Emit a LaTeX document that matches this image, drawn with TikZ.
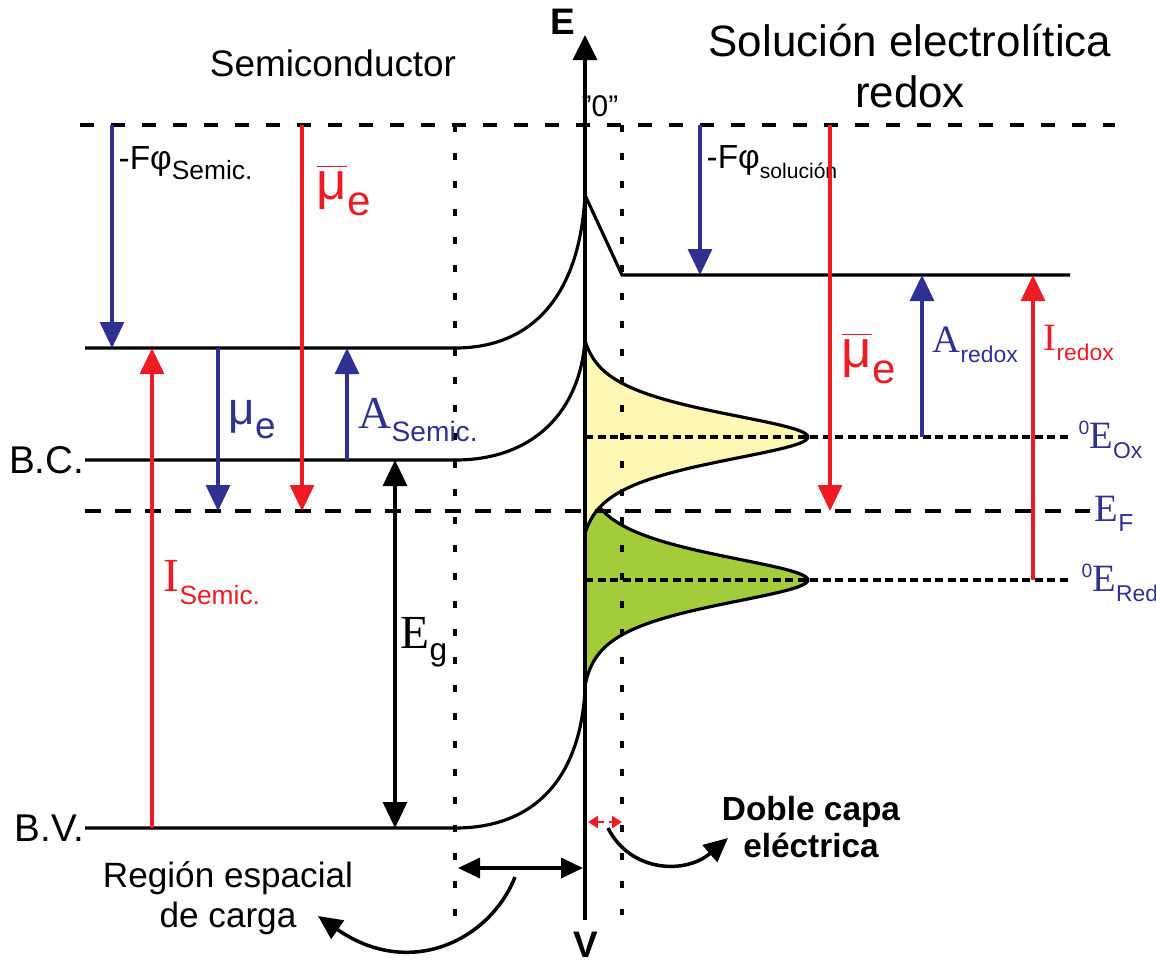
\documentclass[tikz,border=0pt]{standalone}
\usepackage{fontspec}
\setmainfont{Liberation Sans}
\newfontfamily\tmsfont{Liberation Serif}
\usetikzlibrary{arrows.meta}
\definecolor{bandblue}{HTML}{2E3192}
\definecolor{bandred}{HTML}{ED1C24}
\definecolor{oxfill}{HTML}{FFF8B5}
\definecolor{redfill}{HTML}{A3CC3A}
\newcommand{\fsz}[1]{\fontsize{#1}{#1}\selectfont}
\newcommand{\lsub}[3][-1mm]{\raisebox{#1}{\fsz{#2}#3}}
\newcommand{\mubar}{$\overline{\mbox{μ}}$}
\tikzset{
  lvl/.style={line width=0.9pt},
  vacline/.style={line width=0.9pt, dash pattern=on 1.4mm off 1.7mm},
  fermi/.style={line width=0.9pt, dash pattern=on 1.6mm off 1.4mm},
  redoxline/.style={line width=1pt, dash pattern=on 0.8mm off 0.45mm},
  sclimit/.style={line width=0.9pt, dash pattern=on 0.7mm off 2.1mm},
  bluearr/.style={bandblue, line width=0.9pt, -{Triangle[length=2.6mm,width=2.4mm]}},
  redarr/.style={bandred, line width=0.9pt, -{Triangle[length=2.6mm,width=2.4mm]}},
  gaparr/.style={line width=0.9pt, {Triangle[length=2.6mm,width=2.4mm]}-{Triangle[length=2.6mm,width=2.4mm]}},
  bentarr/.style={line width=1pt, -{Triangle[length=2.4mm,width=2.2mm]}},
  txt/.style={inner sep=0pt},
  bluetxt/.style={inner sep=0pt, text=bandblue},
  redtxt/.style={inner sep=0pt, text=bandred}
}

\begin{document}
\begin{tikzpicture}[x=0.1mm, y=-0.1mm]
  \useasboundingbox (0,0) rectangle (1156,965);

  % levels
  \coordinate (vacL) at (80,125);   \coordinate (vacR) at (1115,125);
  \coordinate (efL) at (85,511);    \coordinate (efR) at (1090,511);
  \coordinate (clL) at (85,348);    \coordinate (clR) at (455,348);
  \coordinate (bcL) at (85,460);    \coordinate (bcR) at (455,460);
  \coordinate (bvL) at (85,828);    \coordinate (bvR) at (455,828);
  \coordinate (pkVac) at (585,195);
  \coordinate (pkBC) at (585,340);
  \coordinate (pkBV) at (585,690);
  \coordinate (solL) at (622,275);  \coordinate (solR) at (1070,275);
  \coordinate (oxL) at (585,437);   \coordinate (oxR) at (1070,437);
  \coordinate (rdL) at (585,580);   \coordinate (rdR) at (1070,580);

  % distributions
  \fill[redfill] plot[domain=-4.6:4.6, samples=100] ({585+223*(1/cosh(\x)-0.0201)/0.9799},{580+23*\x}) -- cycle;
  \draw[lvl] plot[domain=-4.6:4.6, samples=100] ({585+223*(1/cosh(\x)-0.0201)/0.9799},{580+23*\x});
  \fill[oxfill] plot[domain=-4.2:4.2, samples=100] ({585+223*(1/cosh(\x)-0.0299)/0.9701},{437+23*\x}) -- cycle;
  \draw[lvl] plot[domain=-4.2:4.2, samples=100] ({585+223*(1/cosh(\x)-0.0299)/0.9701},{437+23*\x});

  % dashed / dotted lines
  \draw[vacline] (vacL) -- (vacR);
  \draw[fermi] (efL) -- (efR);
  \draw[redoxline] (oxL) -- (oxR);
  \draw[redoxline] (rdL) -- (rdR);
  \draw[sclimit] (455,125) -- (455,935);
  \draw[sclimit] (622,125) -- (622,915);

  % bands
  \draw[lvl] (clL) -- (clR) .. controls (535,348) and (580,292) .. (pkVac) -- (solL) -- (solR);
  \draw[lvl] (bcL) -- (bcR) .. controls (535,460) and (580,410) .. (pkBC);
  \draw[lvl] (bvL) -- (bvR) .. controls (535,828) and (580,778) .. (pkBV);

  % axis
  \draw[line width=1pt, -{Triangle[length=2.5mm,width=2.4mm]}] (585,920) -- (585,35);
  \node[txt, font=\fsz{10.5}\bfseries] (eaxis) at (563,22) {E};
  \node[txt, font=\fsz{10.5}\bfseries] (vaxis) at (586,945) {V};
  \node[txt, font=\fsz{8.5}] (zero) at (600,106) {\symbol{34}0\symbol{34}};

  % titles
  \node[txt, font=\fsz{10.5}] (semi) at (333,63) {Semiconductor};
  \node[txt, font=\fsz{12.5}, align=center] (sol) at (910,66) {Solución electrolítica\\[0.8mm]redox};
  \node[txt, anchor=east, font=\fsz{11}] (bc) at (bcL) {B.C.};
  \node[txt, anchor=east, font=\fsz{11}] (bv) at (bvL) {B.V.};

  % semiconductor arrows
  \coordinate (a1t) at (112,125);  \coordinate (a1b) at (112,348);
  \draw[bluearr] (a1t) -- (a1b);
  \node[txt, anchor=north west] (phis) at (118,146) {\fsz{9.5}-Fφ\lsub{7.5}{Semic.}};
  \coordinate (a2t) at (302,125);  \coordinate (a2b) at (302,511);
  \draw[redarr] (a2t) -- (a2b);
  \node[redtxt, anchor=west] (mubs) at (316,190) {\fsz{15}\mubar\lsub[-1.6mm]{12}{e}};
  \coordinate (a3b) at (152,828);  \coordinate (a3t) at (152,348);
  \draw[redarr] (a3b) -- (a3t);
  \node[redtxt, anchor=west] (is) at (163,583) {\tmsfont\fsz{13.5}I\lsub[-1.3mm]{7.5}{\normalfont Semic.}};
  \coordinate (a4t) at (218,348);  \coordinate (a4b) at (218,511);
  \draw[bluearr] (a4t) -- (a4b);
  \node[bluetxt, anchor=west] (mus) at (228,420) {\fsz{13}μ\lsub[-1.4mm]{10.5}{e}};
  \coordinate (a5b) at (347,460);  \coordinate (a5t) at (347,348);
  \draw[bluearr] (a5b) -- (a5t);
  \node[bluetxt, anchor=west] (as) at (358,420) {\tmsfont\fsz{13}A\lsub[-1.3mm]{8}{\normalfont Semic.}};
  \coordinate (a6t) at (395,460);  \coordinate (a6b) at (395,828);
  \draw[gaparr] (a6t) -- (a6b);
  \node[txt, anchor=west] (eg) at (400,642) {\tmsfont\fsz{13.5}E\lsub[-1.2mm]{9}{\normalfont g}};

  % solution arrows
  \coordinate (b1t) at (700,125);  \coordinate (b1b) at (700,275);
  \draw[bluearr] (b1t) -- (b1b);
  \node[txt, anchor=north west] (phisol) at (706,145) {\fsz{9.5}-Fφ\lsub{6}{solución}};
  \coordinate (b2t) at (830,125);  \coordinate (b2b) at (830,511);
  \draw[redarr] (b2t) -- (b2b);
  \node[redtxt, anchor=west] (mubsol) at (841,358) {\fsz{15}\mubar\lsub[-1.6mm]{12}{e}};
  \coordinate (b3b) at (922,437);  \coordinate (b3t) at (922,275);
  \draw[bluearr] (b3b) -- (b3t);
  \node[bluetxt, anchor=west] (ared) at (932,345) {\tmsfont\fsz{11}A\lsub[-1mm]{6.5}{\normalfont redox}};
  \coordinate (b4b) at (1033,580);  \coordinate (b4t) at (1033,275);
  \draw[redarr] (b4b) -- (b4t);
  \node[redtxt, anchor=west] (ired) at (1043,343) {\tmsfont\fsz{11}I\lsub[-1mm]{6.5}{\normalfont redox}};

  % level labels
  \node[bluetxt, anchor=west] (eox) at (1078,440) {\raisebox{1.4mm}{\fsz{5.5}0}\tmsfont\fsz{11}E\lsub[-1mm]{6.5}{\normalfont Ox}};
  \node[bluetxt, anchor=west] (ef) at (1094,514) {\tmsfont\fsz{11}E\lsub[-1mm]{7}{\normalfont F}};
  \node[bluetxt, anchor=west] (ered) at (1081,583) {\raisebox{1.4mm}{\fsz{5.5}0}\tmsfont\fsz{11}E\lsub[-1mm]{6.5}{\normalfont Red}};

  % space charge region and double layer
  \coordinate (scL) at (458,868);  \coordinate (scR) at (583,868);
  \draw[line width=1pt, {Triangle[length=2.2mm,width=2mm]}-{Triangle[length=2.2mm,width=2mm]}] (scL) -- (scR);
  \node[txt, font=\fsz{10}, align=center] (scr) at (228,898) {Región espacial\\[0.5mm]de carga};
  \coordinate (scs) at (515,877);
  \coordinate (sce) at (318,916);
  \draw[bentarr] (scs) .. controls (490,940) and (410,980) .. (sce);
  \coordinate (dlL) at (588,822);  \coordinate (dlR) at (622,822);
  \draw[bandred, line width=0.8pt, dash pattern=on 0.7mm off 0.5mm, {Triangle[length=1mm,width=1.2mm]}-{Triangle[length=1mm,width=1.2mm]}] (dlL) -- (dlR);
  \node[txt, font=\fsz{9.5}\bfseries, align=center] (dl) at (811,827) {Doble capa\\[0.3mm]eléctrica};
  \coordinate (dls) at (608,828);
  \coordinate (dle) at (728,838);
  \draw[bentarr] (dls) .. controls (630,872) and (685,875) .. (dle);
\end{tikzpicture}
\end{document}
